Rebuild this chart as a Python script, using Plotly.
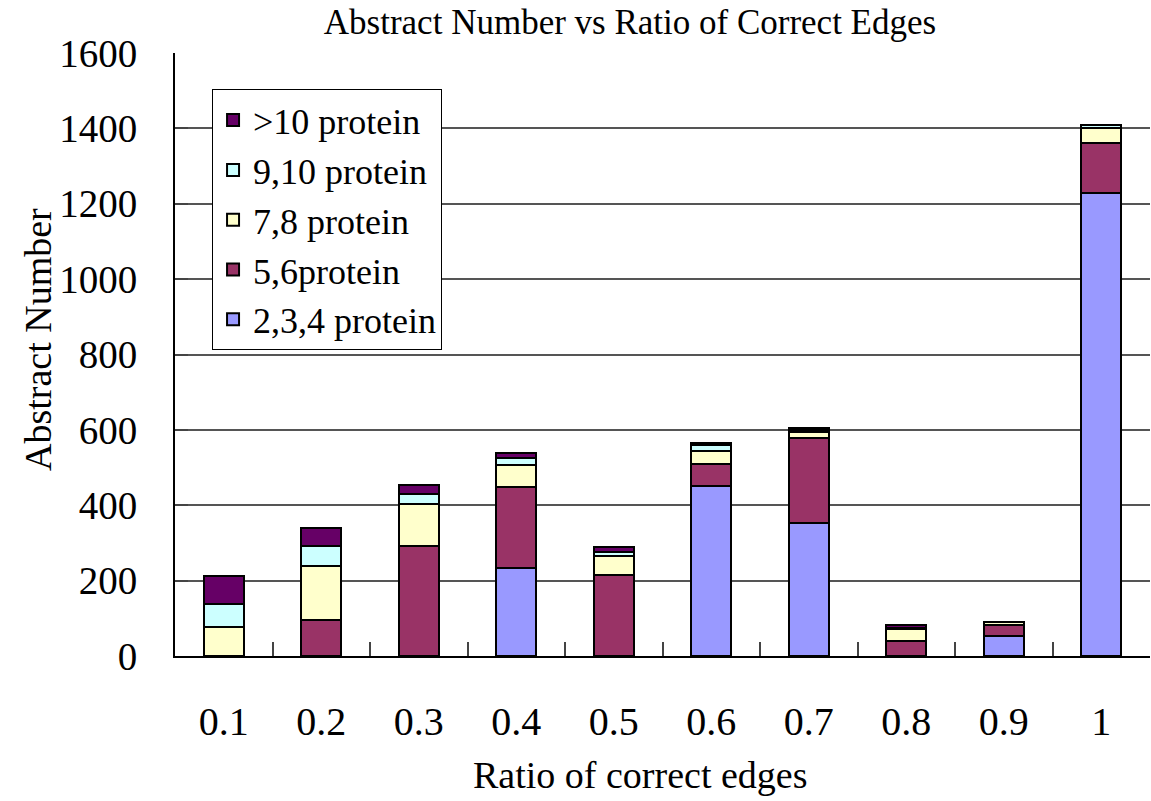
import plotly.graph_objects as go

# Ratio of correct edges (categories)
ratios = ["0.1", "0.2", "0.3", "0.4", "0.5", "0.6", "0.7", "0.8", "0.9", "1"]

# Abstract counts per protein-count group, stacked bottom to top
p_2_3_4 = [0, 0, 0, 233, 0, 450, 353, 0, 54, 1228]
p_5_6 = [0, 96, 293, 216, 214, 59, 226, 41, 27, 134]
p_7_8 = [77, 143, 110, 59, 52, 34, 15, 30, 8, 40]
p_9_10 = [60, 53, 27, 18, 10, 17, 6, 2, 2, 8]
p_gt_10 = [74, 48, 25, 13, 14, 6, 6, 10, 0, 0]

series = [
    ("2,3,4 protein", p_2_3_4, "#9999FF"),
    ("5,6protein", p_5_6, "#993366"),
    ("7,8 protein", p_7_8, "#FFFFCC"),
    ("9,10 protein", p_9_10, "#CCFFFF"),
    (">10 protein", p_gt_10, "#660066"),
]

FONT = "Liberation Serif, Times New Roman, serif"

fig = go.Figure()
for name, vals, color in series:
    fig.add_trace(go.Bar(
        x=ratios, y=vals, name=name,
        marker=dict(color=color, line=dict(color="black", width=2)),
    ))

W, H = 1151, 801
L, R, T, B = 175, 1, 53, 145

# axis titles placed as container-anchored annotations
fig.add_annotation(
    text="Ratio of correct edges", xref="paper", yref="paper",
    x=(640 - L) / (W - L - R), y=-(775 - (H - B)) / (H - T - B),
    xanchor="center", yanchor="middle", showarrow=False,
    font=dict(size=38, family=FONT, color="black"),
)
fig.add_annotation(
    text="Abstract Number", xref="paper", yref="paper",
    x=-(L - 38) / (W - L - R), y=((H - B) - 340) / (H - T - B),
    xanchor="center", yanchor="middle", showarrow=False, textangle=-90,
    font=dict(size=38, family=FONT, color="black"),
)

fig.update_layout(
    width=W, height=H,
    margin=dict(l=L, r=R, t=T, b=B),
    barmode="stack",
    bargap=0.59,
    paper_bgcolor="white",
    plot_bgcolor="white",
    font=dict(family=FONT, color="black"),
    title=dict(
        text="Abstract Number vs Ratio of Correct Edges",
        font=dict(size=35, family=FONT, color="black"),
        x=630 / W, xref="container", xanchor="center",
        y=1 - 22 / H, yref="container", yanchor="middle",
    ),
    legend=dict(
        x=0.038, y=0.94, xanchor="left", yanchor="top",
        traceorder="reversed",
        bgcolor="white", bordercolor="black", borderwidth=1,
        font=dict(size=36, family=FONT, color="black"),
        itemwidth=30,
    ),
    xaxis=dict(
        type="category",
        showline=True, linecolor="black", linewidth=2,
        ticks="inside", tickson="boundaries", ticklen=14, tickcolor="#444",
        tickwidth=2,
        tickfont=dict(size=40, family=FONT),
        ticklabelstandoff=29,
        showgrid=False,
    ),
    yaxis=dict(
        range=[0, 1600], dtick=200,
        showline=True, linecolor="black", linewidth=2,
        ticks="inside", ticklen=13, tickcolor="#444", tickwidth=2,
        tickfont=dict(size=39, family=FONT),
        ticklabelstandoff=28,
        showgrid=True, gridcolor="#555", gridwidth=2,
        zeroline=False,
    ),
)

fig.write_html("out.html")
